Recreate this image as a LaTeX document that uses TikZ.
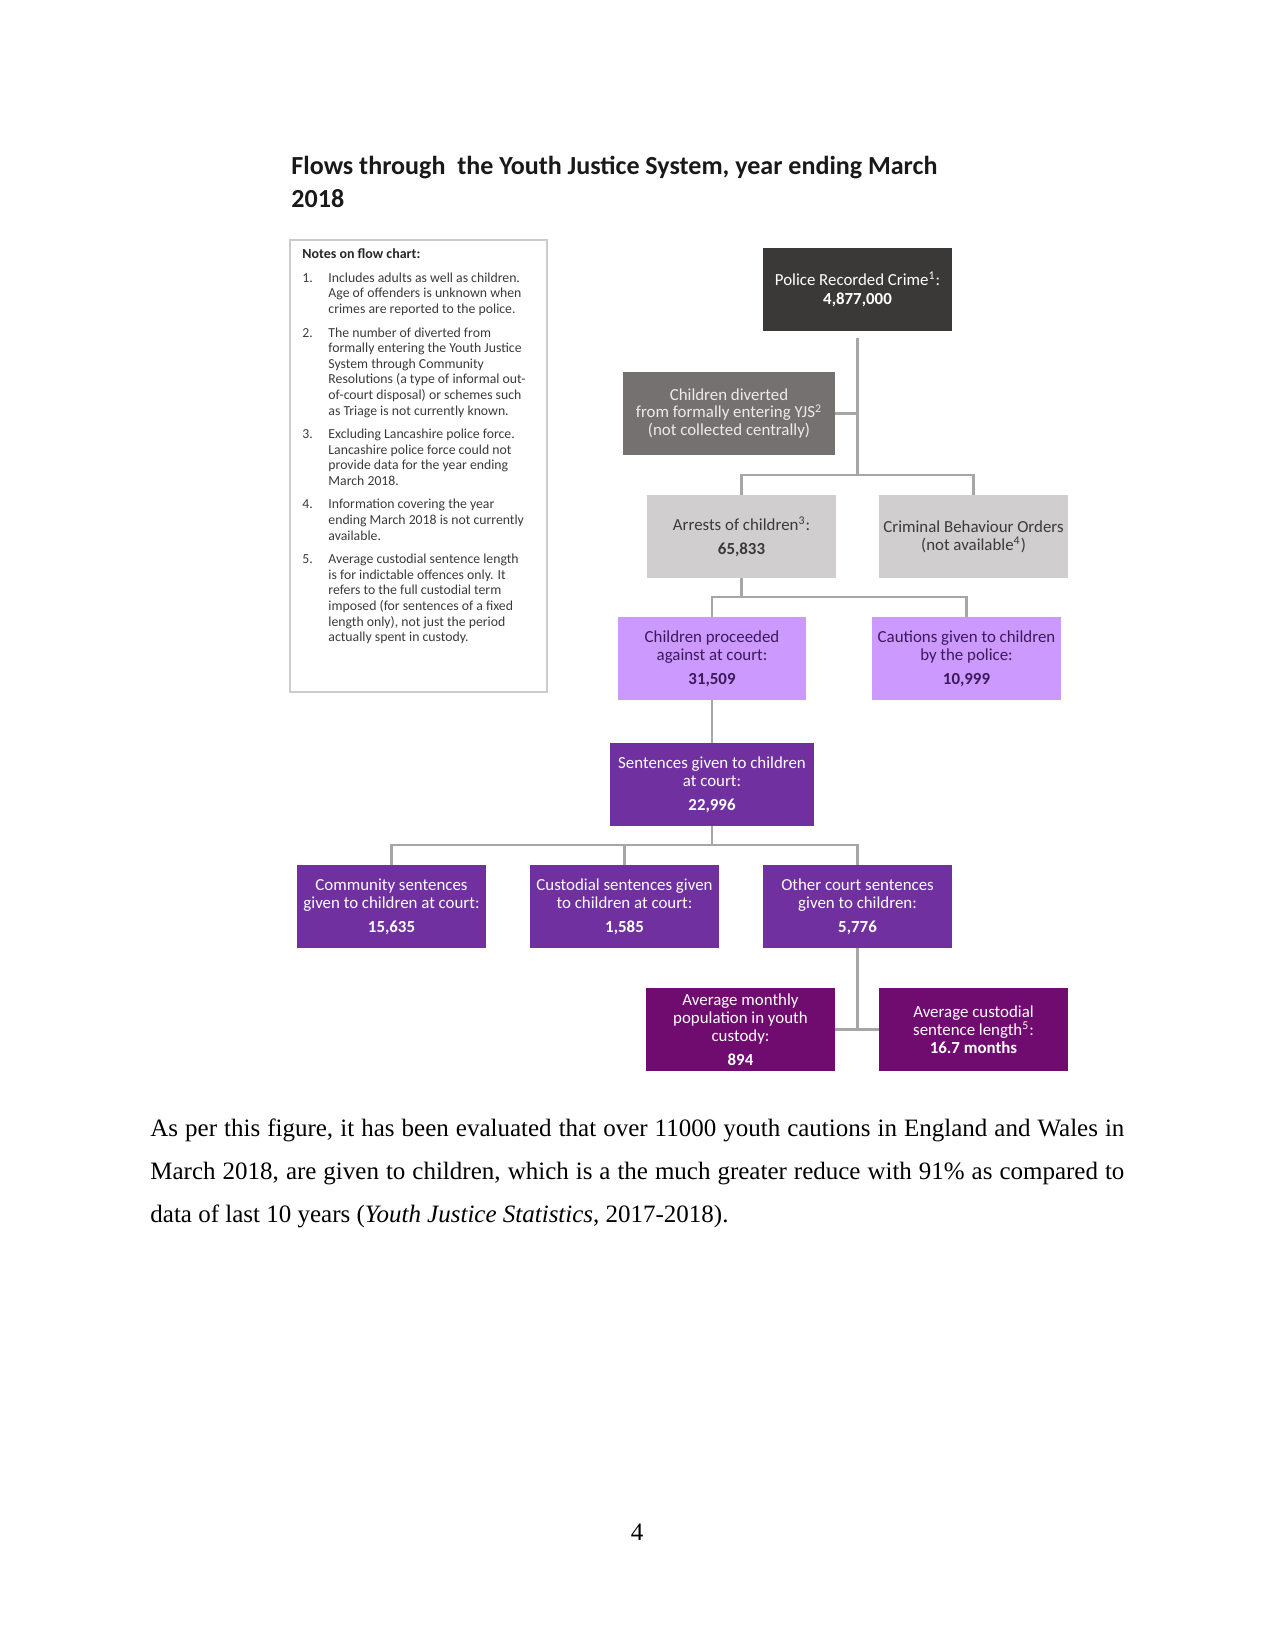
\documentclass[tikz,border=0pt]{standalone}
\usepackage{fontspec}
\setmainfont{Liberation Serif}
\newfontfamily\chartfont{Carlito}
\definecolor{crimegray}{HTML}{3B3838}
\definecolor{divertgray}{HTML}{767171}
\definecolor{arrestgray}{HTML}{D0CECE}
\definecolor{courtlilac}{HTML}{CC99FF}
\definecolor{lilactext}{HTML}{3C1A5A}
\definecolor{sentpurple}{HTML}{7030A0}
\definecolor{custodyplum}{HTML}{700B70}
\definecolor{linegray}{HTML}{A6A6A6}
\definecolor{notegray}{HTML}{3A3A3A}
\begin{document}
\begin{tikzpicture}[x=0.48pt, y=-0.48pt,
  flowbox/.style={minimum width=90.7pt, minimum height=39.8pt, inner sep=1pt,
    align=center, font=\chartfont\fontsize{8.1}{8.6}\selectfont},
  crimebox/.style={flowbox, fill=crimegray, text=white},
  divertbox/.style={flowbox, fill=divertgray, text=white!92!black, minimum width=101.8pt},
  arrestbox/.style={flowbox, fill=arrestgray, text=notegray},
  lilacbox/.style={flowbox, fill=courtlilac, text=lilactext},
  purplebox/.style={flowbox, fill=sentpurple, text=white},
  plumbox/.style={flowbox, fill=custodyplum, text=white},
  flowline/.style={draw=linegray, line width=1.4pt},
  notefont/.style={font=\chartfont\fontsize{6.6}{7.5}\selectfont, text=notegray}]
\useasboundingbox (0,0) rectangle (1275,1650);

% Title
\node[anchor=base west, inner sep=0, align=left,
  font=\chartfont\bfseries\fontsize{12.5}{16}\selectfont, text=black!90]
  (title) at (291,208) {Flows through\ \ the Youth Justice System, year ending March\\2018};

% Notes on flow chart
\node[draw=black!20, line width=0.8pt, minimum width=123.4pt, minimum height=217pt]
  (notes) at (418.5,466) {};
\node[notefont, anchor=west, inner sep=0, font=\chartfont\bfseries\fontsize{6.7}{7.5}\selectfont,
  text=black!85] (notetitle) at (302,254) {Notes on flow chart:};
\node[notefont, anchor=north west, inner sep=0] (notelist) at (302,271) {%
  \begin{tabular}{@{}p{12.5pt}@{}l@{}}
  1. & Includes adults as well as children.\\
     & Age of offenders is unknown when\\
     & crimes are reported to the police.\\[3.75pt]
  2. & The number of diverted from\\
     & formally entering the Youth Justice\\
     & System through Community\\
     & Resolutions (a type of informal out-\\
     & of-court disposal) or schemes such\\
     & as Triage is not currently known.\\[3.75pt]
  3. & Excluding Lancashire police force.\\
     & Lancashire police force could not\\
     & provide data for the year ending\\
     & March 2018.\\[3.75pt]
  4. & Information covering the year\\
     & ending March 2018 is not currently\\
     & available.\\[3.75pt]
  5. & Average custodial sentence length\\
     & is for indictable offences only. It\\
     & refers to the full custodial term\\
     & imposed (for sentences of a fixed\\
     & length only), not just the period\\
     & actually spent in custody.
  \end{tabular}};

% Flow chart boxes
\node[crimebox] (police) at (857.5,289.5)
  {Police Recorded Crime\textsuperscript{1}:\\[0.5pt]\textbf{4,877,000}};
\node[divertbox] (diverted) at (729,413.5)
  {Children diverted\\from formally entering YJS\textsuperscript{2}\\(not collected centrally)};
\node[arrestbox] (arrests) at (741.5,536.5)
  {Arrests of children\textsuperscript{3}:\\[3pt]\textbf{65,833}};
\node[arrestbox] (cbo) at (973.5,536.5)
  {Criminal Behaviour Orders\\(not available\textsuperscript{4})};
\node[lilacbox] (proceeded) at (712,658.5)
  {Children proceeded\\against at court:\\[3pt]\textbf{31,509}};
\node[lilacbox] (cautions) at (966.5,658.5)
  {Cautions given to children\\by the police:\\[3pt]\textbf{10,999}};
\node[purplebox, minimum width=97.9pt] (sentences) at (712,784.5)
  {Sentences given to children\\at court:\\[3pt]\textbf{22,996}};
\node[purplebox] (community) at (391.5,906.5)
  {Community sentences\\given to children at court:\\[3pt]\textbf{15,635}};
\node[purplebox] (custodial) at (624.5,906.5)
  {Custodial sentences given\\to children at court:\\[3pt]\textbf{1,585}};
\node[purplebox] (other) at (857.5,906.5)
  {Other court sentences\\given to children:\\[3pt]\textbf{5,776}};
\node[plumbox] (avgpop) at (740.5,1029.5)
  {Average monthly\\population in youth\\custody:\\[3pt]\textbf{894}};
\node[plumbox] (avglen) at (973.5,1029.5)
  {Average custodial\\sentence length\textsuperscript{5}:\\\textbf{16.7 months}};

% Connectors
\coordinate (bar1) at (0,475);
\coordinate (bar2) at (0,597);
\coordinate (bar3) at (0,845);
\draw[flowline] ([yshift=-3pt]police.south) -- (police.south |- bar1);
\draw[flowline] (diverted.east) -- (diverted.east -| police.south);
\draw[flowline] (arrests.north) -- (arrests.north |- bar1) -| (cbo.north);
\draw[flowline] (arrests.south) -- (arrests.south |- bar2);
\draw[flowline] (proceeded.north) -- (proceeded.north |- bar2) -| (cautions.north);
\draw[flowline] (proceeded.south) -- (sentences.north);
\draw[flowline] (sentences.south) -- (sentences.south |- bar3);
\draw[flowline] (community.north) -- (community.north |- bar3) -| (other.north);
\draw[flowline] (custodial.north) -- (custodial.north |- bar3);
\draw[flowline] (other.south) -- (other.south |- avgpop.east);
\draw[flowline] (avgpop.east) -- (avglen.west);

% Text below the figure
\node[anchor=north west, inner sep=0, text width=467.5pt, align=justify,
  font=\fontsize{12}{20.64}\selectfont] (para) at (150,1118)
  {As per this figure, it has been evaluated that over 11000 youth cautions in England and Wales in\linebreak
   March 2018, are given to children, which is a the much greater reduce with 91\% as compared to\linebreak
   data of last 10 years (\textit{Youth Justice Statistics}, 2017-2018).};
\node[font=\fontsize{12}{14}\selectfont] (pagenum) at (637,1532) {4};
\end{tikzpicture}
\end{document}
